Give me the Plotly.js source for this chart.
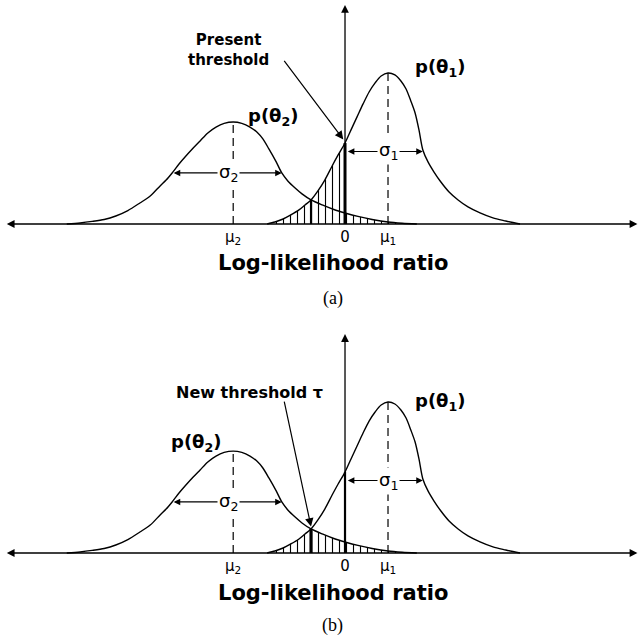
<!DOCTYPE html>
<html><head><meta charset="utf-8">
<script src="https://cdn.plot.ly/plotly-3.0.1.min.js"></script>
<style>html,body{margin:0;padding:0;background:#fff}#chart{width:640px;height:641px}</style>
</head><body><div id="chart"></div>
<script>
// ---- data (log-likelihood ratio units: mu1 = 1) ----
const llrTheta1 = [-1.81,-1.63,-1.44,-1.26,-1.07,-0.93,-0.79,-0.63,-0.47,-0.30,-0.16,0,0.14,0.28,0.42,0.56,0.70,0.84,1.0,1.16,1.30,1.42,1.53,1.63,1.72,1.81,1.93,2.07,2.23,2.42,2.63,2.86,3.14,3.44,3.74,4.07];
const pTheta1   = [0,0.013,0.033,0.060,0.093,0.126,0.159,0.219,0.291,0.384,0.457,0.536,0.623,0.709,0.795,0.874,0.934,0.980,1.0,0.987,0.947,0.894,0.815,0.735,0.623,0.490,0.411,0.344,0.278,0.212,0.159,0.113,0.073,0.040,0.020,0];
const llrTheta2 = [-6.47,-6.16,-5.88,-5.60,-5.33,-5.05,-4.77,-4.53,-4.30,-4.16,-4.02,-3.86,-3.70,-3.53,-3.37,-3.19,-3.00,-2.81,-2.60,-2.40,-2.21,-2.05,-1.91,-1.77,-1.60,-1.47,-1.33,-1.16,-1.00,-0.79,-0.53,-0.26,0,0.30,0.63,1.0,1.33,1.67];
const pTheta2   = [0,0.007,0.017,0.030,0.053,0.089,0.139,0.185,0.252,0.291,0.338,0.397,0.450,0.503,0.550,0.603,0.642,0.666,0.675,0.666,0.642,0.609,0.563,0.497,0.411,0.338,0.285,0.238,0.199,0.159,0.126,0.096,0.073,0.050,0.030,0.013,0.005,0];
const means = [-2.6, 1.0];          // mu2, mu1
const peaks = [0.675, 1.0];         // p(theta2) peak, p(theta1) peak
const thresholds = [0, -0.79];      // (a) present threshold, (b) new threshold tau
const crossingLLR = -0.79;
const sigma1Span = [0.03, 1.81], sigma1Level = 0.48;
const sigma2Span = [-4.02, -1.47], sigma2Level = 0.338;
const tickVals = [-2.6, 0, 1.0];
const tickText = ['μ<sub>2</sub>', '0', 'μ<sub>1</sub>'];
const curveLabels = ['p(θ<sub>1</sub>)', 'p(θ<sub>2</sub>)'];
const sigmaLabels = ['σ<sub>1</sub>', 'σ<sub>2</sub>'];
const axisExtent = [-7.9, 6.8], axisTop = 1.45;
const panelLabels = ['(a)', '(b)'];
const xTitle = 'Log-likelihood ratio';

// ---- helpers ----
function valueAt(xs, ys, x){ const i = xs.findIndex(v => Math.abs(v-x) < 1e-9); return ys[i]; }
function hatchArea(thr){
  const xs=[], ys=[];
  llrTheta1.forEach((x,i)=>{ if(x<=thr){xs.push(x); ys.push(pTheta1[i]);} });
  llrTheta2.forEach((x,i)=>{ if(x>=thr){xs.push(x); ys.push(pTheta2[i]);} });
  return {xs, ys};
}

const traces = [];
const annotations = [];
const bold = 'DejaVu Sans';

[0,1].forEach(p => {
  const xa = p===0 ? 'x' : 'x2', ya = p===0 ? 'y' : 'y2';
  const thr = thresholds[p];
  const h = hatchArea(thr);
  traces.push({x:h.xs, y:h.ys, xaxis:xa, yaxis:ya, mode:'lines', line:{width:0, color:'rgba(0,0,0,0)'},
    fill:'tozeroy', fillcolor:'white',
    fillpattern:{shape:'|', size:7, solidity:0.16, fgcolor:'#000', bgcolor:'white'}, hoverinfo:'skip'});
  // dashed mean lines
  [0,1].forEach(k => traces.push({x:[means[k], means[k]], y:[0, peaks[k]], xaxis:xa, yaxis:ya, mode:'lines',
    line:{color:'#000', width:1.2, dash:'8px,5px'}, hoverinfo:'skip'}));
  // curves
  traces.push({x:llrTheta2, y:pTheta2, xaxis:xa, yaxis:ya, mode:'lines', line:{color:'#000', width:1.4, shape:'spline', smoothing:0.8}});
  traces.push({x:llrTheta1, y:pTheta1, xaxis:xa, yaxis:ya, mode:'lines', line:{color:'#000', width:1.4, shape:'spline', smoothing:0.8}});
  // thick lines at 0 (up to p(theta1)) and at the crossing
  traces.push({x:[0,0], y:[0, valueAt(llrTheta1, pTheta1, 0)], xaxis:xa, yaxis:ya, mode:'lines', line:{color:'#000', width: p===0?3:2.2}});
  traces.push({x:[crossingLLR,crossingLLR], y:[0, valueAt(llrTheta1, pTheta1, crossingLLR)], xaxis:xa, yaxis:ya, mode:'lines', line:{color:'#000', width: p===0?2.2:3.2}});

  const base = {xref:xa, yref:ya, axref:xa, ayref:ya};
  // horizontal axis (double arrow)
  annotations.push(Object.assign({}, base, {x:axisExtent[1], y:0, ax:axisExtent[0], ay:0, text:'', showarrow:true,
    arrowhead:2, startarrowhead:2, arrowside:'end+start', arrowsize:1.2, startarrowsize:1.2, arrowwidth:1.3, arrowcolor:'#000', standoff:0, startstandoff:0}));
  // vertical axis
  annotations.push(Object.assign({}, base, {x:0, y:axisTop, ax:0, ay:0, text:'', showarrow:true,
    arrowhead:2, arrowsize:1.2, arrowwidth:1.3, arrowcolor:'#000', standoff:0}));
  // sigma arrows
  annotations.push(Object.assign({}, base, {x:sigma1Span[1], y:sigma1Level, ax:sigma1Span[0], ay:sigma1Level, text:'', showarrow:true,
    arrowhead:2, startarrowhead:2, arrowside:'end+start', arrowsize:1.1, startarrowsize:1.1, arrowwidth:1.2, arrowcolor:'#000', standoff:0, startstandoff:0}));
  annotations.push({xref:xa, yref:ya, x:means[1], y:sigma1Level, text:sigmaLabels[0], showarrow:false, bgcolor:'white', borderpad:1,
    font:{family:'DejaVu Sans', size:18, color:'#000'}});
  annotations.push(Object.assign({}, base, {x:sigma2Span[1], y:sigma2Level, ax:sigma2Span[0], ay:sigma2Level, text:'', showarrow:true,
    arrowhead:2, startarrowhead:2, arrowside:'end+start', arrowsize:1.1, startarrowsize:1.1, arrowwidth:1.2, arrowcolor:'#000', standoff:0, startstandoff:0}));
  annotations.push({xref:xa, yref:ya, x:-2.72, y:sigma2Level, text:sigmaLabels[1], showarrow:false, bgcolor:'white', borderpad:1,
    font:{family:'DejaVu Sans', size:18, color:'#000'}});
  // labels
  annotations.push({xref:xa, yref:ya, x:2.21, y:p===0?1.033:1.0, text:'<b>'+curveLabels[0]+'</b>', showarrow:false,
    font:{family:bold, size:18, color:'#000'}});
  annotations.push({xref:xa, yref:ya, x:p===0?-1.674:-3.47, y:p===0?0.709:0.728, text:'<b>'+curveLabels[1]+'</b>', showarrow:false,
    font:{family:bold, size:18, color:'#000'}});
  annotations.push({xref:xa, yref:ya, x:-0.28, y:p===0?-0.258:-0.265, text:'<b>'+xTitle+'</b>', showarrow:false,
    font:{family:bold, size:21, color:'#000'}});
  annotations.push({xref:xa, yref:ya, x:-0.28, y:p===0?-0.49:-0.483, text:panelLabels[p], showarrow:false,
    font:{family:'Liberation Serif', size:18, color:'#000'}});
});

// panel (a) pointer
annotations.push({xref:'x', yref:'y', x:-2.72, y:1.15, text:'<b>Present<br>threshold</b>', showarrow:false, align:'center',
  font:{family:bold, size:15, color:'#000'}});
annotations.push({xref:'x', yref:'y', axref:'x', ayref:'y', x:-0.04, y:0.56, ax:-1.44, ay:1.09, text:'', showarrow:true,
  arrowhead:2, arrowsize:1.4, arrowwidth:1.2, arrowcolor:'#000', standoff:0});
// panel (b) pointer
annotations.push({xref:'x2', yref:'y2', x:-2.21, y:1.066, text:'<b>New threshold τ</b>', showarrow:false,
  font:{family:bold, size:16, color:'#000'}});
annotations.push({xref:'x2', yref:'y2', axref:'x2', ayref:'y2', x:crossingLLR, y:0.175, ax:-1.42, ay:1.013, text:'', showarrow:true,
  arrowhead:2, arrowsize:1.4, arrowwidth:1.2, arrowcolor:'#000', standoff:0});

const xRange = [-8.023, 6.860];
const xCommon = {range:xRange, showgrid:false, zeroline:false, showline:false, ticks:'', tickvals:tickVals, ticktext:tickText,
  tickfont:{family:'DejaVu Sans', size:15, color:'#000'}, anchor:'free', fixedrange:true, ticklabelstandoff:2};
const layout = {
  width:640, height:641, margin:{l:0,r:0,t:0,b:0}, showlegend:false,
  paper_bgcolor:'white', plot_bgcolor:'rgba(0,0,0,0)',
  xaxis: Object.assign({}, xCommon, {domain:[0,1], position: 1-224/641}),
  yaxis: {domain:[0.5,1], range:[-0.639,1.483], visible:false, fixedrange:true},
  xaxis2: Object.assign({}, xCommon, {domain:[0,1], position: 1-553/641}),
  yaxis2: {domain:[0,0.5], range:[-0.583,1.540], visible:false, fixedrange:true},
  annotations: annotations
};
Plotly.newPlot('chart', traces, layout, {staticPlot:true, displayModeBar:false});
</script></body></html>
